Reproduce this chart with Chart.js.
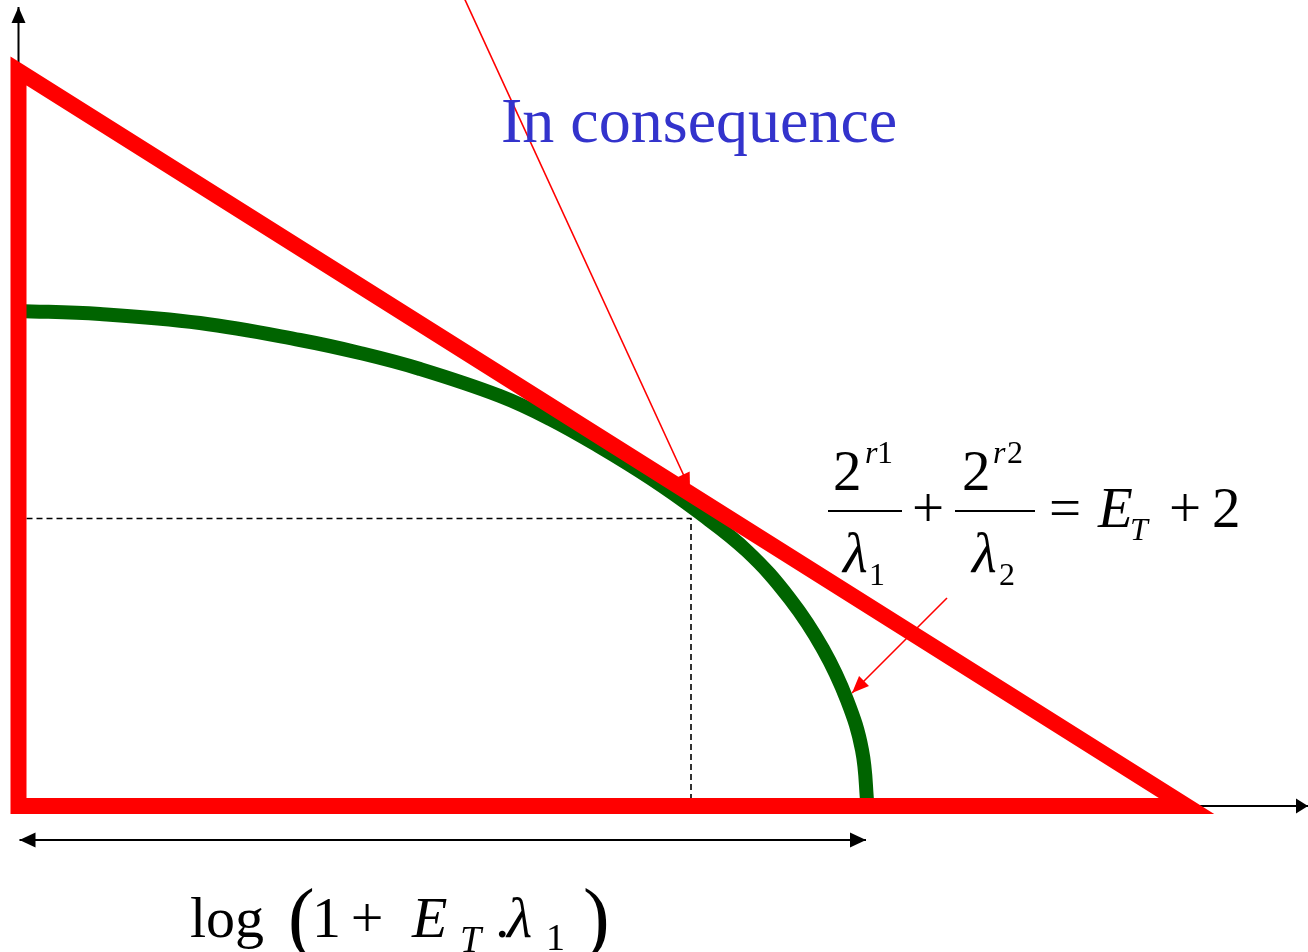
<!DOCTYPE html>
<html>
<head>
<meta charset="utf-8">
<script src="https://cdn.jsdelivr.net/npm/chart.js@4.4.1/dist/chart.umd.min.js"></script>
<style>
  body { margin: 0; background: #fff; }
  #wrap { width: 1308px; height: 952px; position: relative; }
</style>
</head>
<body>
<div id="wrap"><canvas id="mycanvas"></canvas></div>
<script>
// region boundary (red triangle)
var triangleX = [5, 0, 0, 11.68, 5];
var triangleY = [0, 0, 7.35, 0, 0];

// achievable rate curve (green)
var curveX = [0, 0.815, 1.815, 2.815, 3.415, 4.015, 4.815, 5.315, 5.815, 6.315, 6.785, 7.285, 7.715, 8.045, 8.285, 8.435, 8.49];
var curveY = [4.95, 4.92, 4.83, 4.66, 4.53, 4.37, 4.10, 3.87, 3.59, 3.28, 2.95, 2.55, 2.07, 1.57, 1.06, 0.56, 0];

// dashed guide to the tangent point
var guideX = [0.08, 6.725, 6.725];
var guideY = [2.875, 2.875, 0.08];

// axes and arrows
var yAxisX = [0, 0];
var yAxisY = [0, 7.99];
var xAxisX = [11.68, 12.895];
var xAxisY = [0, 0];
var spanX = [0.01, 8.475];
var spanY = [-0.34, -0.34];
var pointer1X = [4.42, 6.715];
var pointer1Y = [8.16, 3.17];
var pointer2X = [9.285, 8.335];
var pointer2Y = [2.08, 1.13];

function pts(xs, ys) {
  var out = [];
  for (var i in xs) {
    out.push({x: xs[i], y: ys[i]});
  }
  return out;
}

function line(data, color, width, order, extra) {
  var ds = {
    data: data,
    showLine: true,
    fill: false,
    borderColor: color,
    backgroundColor: color,
    borderWidth: width,
    pointRadius: 0,
    pointHoverRadius: 0,
    tension: 0,
    order: order
  };
  for (var k in extra) ds[k] = extra[k];
  return ds;
}

var arrowPlugin = {
  id: 'arrows',
  afterDatasetsDraw: function(chart) {
    var c = chart.ctx;
    chart.data.datasets.forEach(function(ds, i) {
      if (!ds.arrowHeads) return;
      var el = chart.getDatasetMeta(i).data;
      var n = el.length;
      ds.arrowHeads.forEach(function(end) {
        var tip, from;
        if (end === 'end') { tip = el[n - 1]; from = el[n - 2]; }
        else { tip = el[0]; from = el[1]; }
        var a = Math.atan2(tip.y - from.y, tip.x - from.x);
        var L = ds.headLength, W = ds.headWidth;
        c.save();
        c.fillStyle = ds.borderColor;
        c.beginPath();
        c.moveTo(tip.x, tip.y);
        c.lineTo(tip.x - L * Math.cos(a) + W * Math.sin(a), tip.y - L * Math.sin(a) - W * Math.cos(a));
        c.lineTo(tip.x - L * Math.cos(a) - W * Math.sin(a), tip.y - L * Math.sin(a) + W * Math.cos(a));
        c.closePath();
        c.fill();
        c.restore();
      });
    });
  }
};

function txt(c, s, x, y, size, italic, align) {
  c.font = (italic ? 'italic ' : '') + size + 'px "Liberation Serif", "DejaVu Serif", serif';
  c.textAlign = align || 'left';
  c.textBaseline = 'alphabetic';
  c.fillText(s, x, y);
}

var textPlugin = {
  id: 'labels',
  afterDraw: function(chart) {
    var c = chart.ctx;
    c.save();
    c.fillStyle = '#3333cc';
    txt(c, 'In consequence', 501, 142, 64, false);

    c.fillStyle = '#000';
    c.strokeStyle = '#000';
    // 2^r1 / lambda1 + 2^r2 / lambda2 = E_T + 2
    txt(c, '2', 833, 490, 57, false);
    txt(c, 'r', 865, 463, 32, true);
    txt(c, '1', 877, 463, 32, false);
    c.lineWidth = 2;
    c.beginPath(); c.moveTo(828, 511); c.lineTo(902, 511); c.stroke();
    txt(c, '\u03bb', 843, 572, 57, true);
    txt(c, '1', 869, 585, 32, false);
    txt(c, '+', 928, 527, 57, false, 'center');
    txt(c, '2', 962, 490, 57, false);
    txt(c, 'r', 993, 463, 32, true);
    txt(c, '2', 1007, 463, 32, false);
    c.beginPath(); c.moveTo(955, 511); c.lineTo(1035, 511); c.stroke();
    txt(c, '\u03bb', 972, 572, 57, true);
    txt(c, '2', 999, 585, 32, false);
    txt(c, '=', 1065, 527, 57, false, 'center');
    txt(c, 'E', 1098, 527, 57, true);
    txt(c, 'T', 1130, 540, 32, true);
    txt(c, '+', 1185, 527, 57, false, 'center');
    txt(c, '2', 1212, 527, 57, false);

    // log(1 + E_T . lambda1)
    txt(c, 'log', 190, 937, 58, false);
    txt(c, '(', 288, 944, 80, false);
    txt(c, '1', 312, 937, 58, false);
    txt(c, '+', 367, 937, 58, false, 'center');
    txt(c, 'E', 412, 937, 58, true);
    txt(c, 'T', 460, 952, 38, true);
    txt(c, '.', 495, 937, 58, false);
    txt(c, '\u03bb', 507, 937, 58, true);
    txt(c, '1', 546, 950, 38, false);
    txt(c, ')', 583, 944, 80, false);
    c.restore();
  }
};

var chartdata = {
  datasets: [
    line(pts(triangleX, triangleY), '#ff0000', 16, 0, {borderJoinStyle: 'miter'}),
    line(pts(curveX, curveY), '#006400', 14, 1, {tension: 0.4}),
    line(pts(guideX, guideY), '#000000', 1.6, 2, {borderDash: [6, 4]}),
    line(pts(yAxisX, yAxisY), '#000000', 2, 2, {arrowHeads: ['end'], headLength: 16, headWidth: 7}),
    line(pts(xAxisX, xAxisY), '#000000', 2, 2, {arrowHeads: ['end'], headLength: 12, headWidth: 7.5}),
    line(pts(spanX, spanY), '#000000', 2, 2, {arrowHeads: ['start', 'end'], headLength: 16, headWidth: 7.5}),
    line(pts(pointer1X, pointer1Y), '#ff0000', 1.6, 2, {arrowHeads: ['end'], headLength: 16, headWidth: 7}),
    line(pts(pointer2X, pointer2Y), '#ff0000', 1.6, 2, {arrowHeads: ['end'], headLength: 17, headWidth: 7})
  ]
};

var ctx = document.getElementById('mycanvas');

var Diagram = new Chart(ctx, {
  type: 'scatter',
  data: chartdata,
  options: {
    responsive: true,
    maintainAspectRatio: false,
    animation: false,
    layout: { padding: 0 },
    plugins: { legend: { display: false }, tooltip: { enabled: false } },
    scales: {
      x: { type: 'linear', min: -0.185, max: 12.895, display: false },
      y: { type: 'linear', min: -1.46, max: 8.06, display: false }
    }
  },
  plugins: [arrowPlugin, textPlugin]
});
</script>
</body>
</html>
